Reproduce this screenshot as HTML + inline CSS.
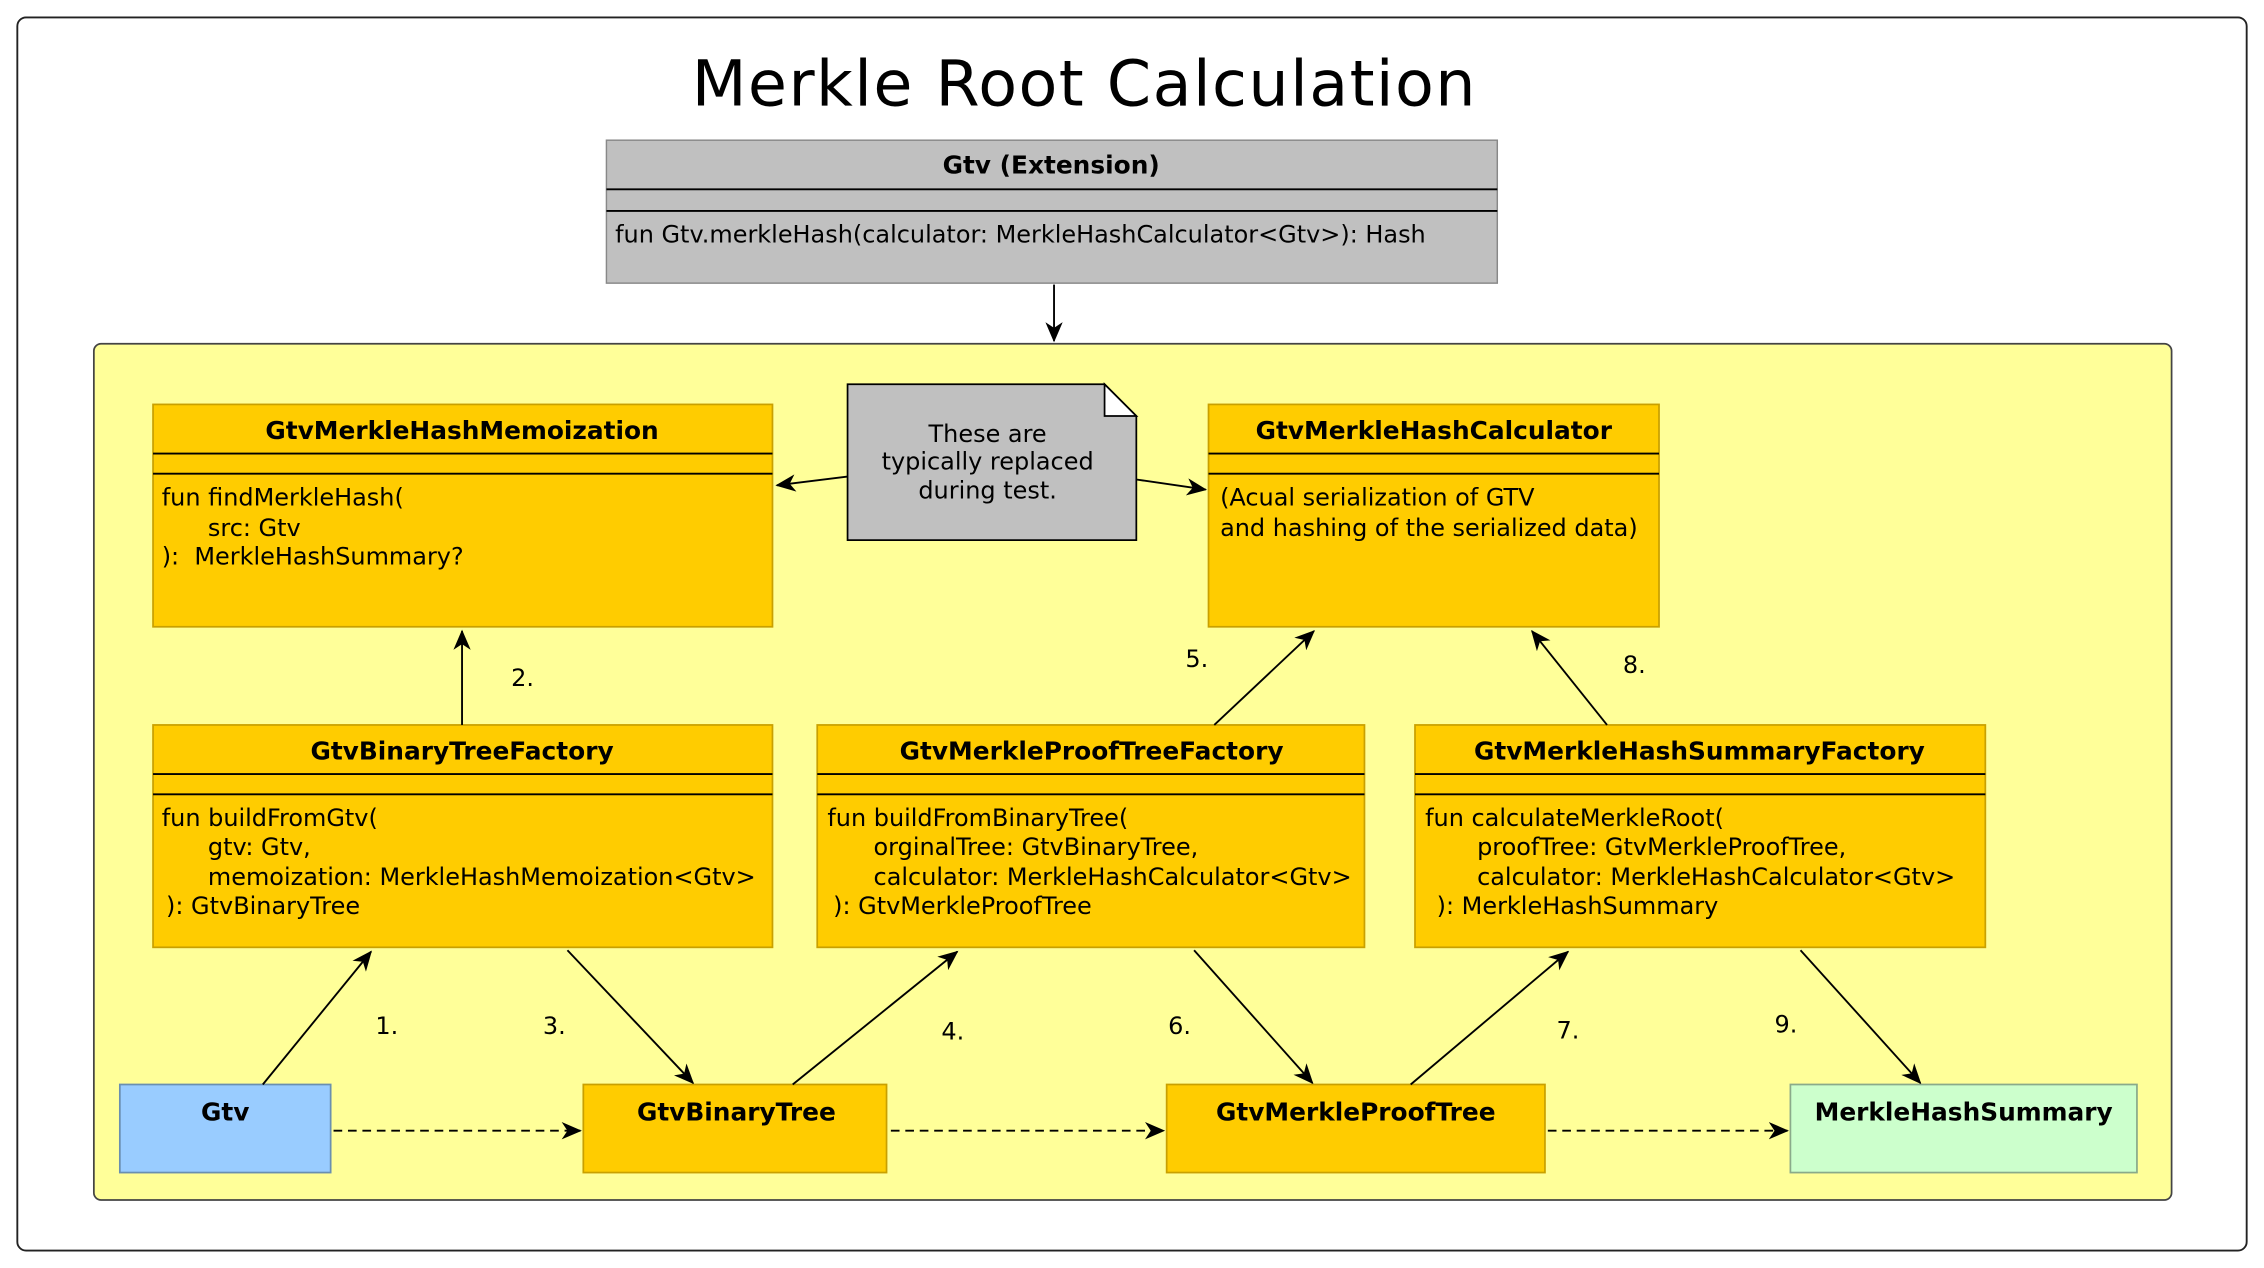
<!DOCTYPE html>
<html><head><meta charset="utf-8"><style>
html,body{margin:0;padding:0;background:#fff;}
svg{display:block;}
text{font-family:"DejaVu Sans","Liberation Sans",sans-serif;fill:#000;}
.t{font-size:16.6px;}
.b{font-size:17.2px;font-weight:bold;}
</style></head><body>
<svg width="2264" height="1268" viewBox="0 0 1568 878" xmlns="http://www.w3.org/2000/svg">
<defs>
<marker id="a" viewBox="0 0 14 12" refX="13" refY="6" markerWidth="14" markerHeight="12" markerUnits="userSpaceOnUse" orient="auto">
<path d="M0,0 L14,6 L0,12 L4,6 Z" fill="#000"/></marker>
</defs>
<rect x="0" y="0" width="1568" height="878" fill="#fff"/>
<rect x="12" y="12" width="1544" height="854" rx="6" fill="#fff" stroke="#222" stroke-width="1.3"/>
<text x="751" y="73" text-anchor="middle" style="font-size:44px;letter-spacing:1px">Merkle Root Calculation</text>

<!-- Gtv Extension -->
<rect x="420" y="97" width="617" height="99" fill="#c0c0c0" stroke="#888" stroke-width="1"/>
<text x="728" y="120" text-anchor="middle" class="b">Gtv (Extension)</text>
<line x1="420" y1="131" x2="1037" y2="131" stroke="#000" stroke-width="1.3"/>
<line x1="420" y1="146" x2="1037" y2="146" stroke="#000" stroke-width="1.3"/>
<text x="426" y="168" class="t">fun Gtv.merkleHash(calculator: MerkleHashCalculator&lt;Gtv&gt;): Hash</text>
<line x1="730" y1="197" x2="730" y2="236" stroke="#000" stroke-width="1.3" marker-end="url(#a)"/>

<!-- package -->
<rect x="65" y="238" width="1439" height="593" rx="5" fill="#ffff99" stroke="#444" stroke-width="1.2"/>

<!-- Memoization -->
<rect x="106" y="280" width="429" height="154" fill="#ffcc00" stroke="#c9a000" stroke-width="1.2"/>
<text x="320" y="304" text-anchor="middle" class="b">GtvMerkleHashMemoization</text>
<line x1="106" y1="314" x2="535" y2="314" stroke="#000" stroke-width="1.3"/>
<line x1="106" y1="328" x2="535" y2="328" stroke="#000" stroke-width="1.3"/>
<text x="112" y="350" class="t">fun findMerkleHash(</text>
<text x="144" y="371" class="t">src: Gtv</text>
<text x="112" y="391" class="t">):&#160; MerkleHashSummary?</text>

<!-- note -->
<path d="M587,266 L765,266 L787,288 L787,374 L587,374 Z" fill="#c0c0c0" stroke="#000" stroke-width="1.2"/>
<path d="M765,266 L765,288 L787,288 Z" fill="#fff" stroke="#000" stroke-width="1.2"/>
<text x="684" y="306" text-anchor="middle" class="t">These are</text>
<text x="684" y="325" text-anchor="middle" class="t">typically replaced</text>
<text x="684" y="345" text-anchor="middle" class="t">during test.</text>
<line x1="587" y1="330" x2="538" y2="336" stroke="#000" stroke-width="1.3" marker-end="url(#a)"/>
<line x1="787" y1="332" x2="835" y2="339" stroke="#000" stroke-width="1.3" marker-end="url(#a)"/>

<!-- Calculator -->
<rect x="837" y="280" width="312" height="154" fill="#ffcc00" stroke="#c9a000" stroke-width="1.2"/>
<text x="993" y="304" text-anchor="middle" class="b">GtvMerkleHashCalculator</text>
<line x1="837" y1="314" x2="1149" y2="314" stroke="#000" stroke-width="1.3"/>
<line x1="837" y1="328" x2="1149" y2="328" stroke="#000" stroke-width="1.3"/>
<text x="845" y="350" class="t">(Acual serialization of GTV</text>
<text x="845" y="371" class="t">and hashing of the serialized data)</text>

<!-- BinaryTreeFactory -->
<rect x="106" y="502" width="429" height="154" fill="#ffcc00" stroke="#c9a000" stroke-width="1.2"/>
<text x="320" y="526" text-anchor="middle" class="b">GtvBinaryTreeFactory</text>
<line x1="106" y1="536" x2="535" y2="536" stroke="#000" stroke-width="1.3"/>
<line x1="106" y1="550" x2="535" y2="550" stroke="#000" stroke-width="1.3"/>
<text x="112" y="572" class="t">fun buildFromGtv(</text>
<text x="144" y="592" class="t">gtv: Gtv,</text>
<text x="144" y="613" class="t">memoization: MerkleHashMemoization&lt;Gtv&gt;</text>
<text x="115" y="633" class="t">): GtvBinaryTree</text>

<!-- ProofTreeFactory -->
<rect x="566" y="502" width="379" height="154" fill="#ffcc00" stroke="#c9a000" stroke-width="1.2"/>
<text x="756" y="526" text-anchor="middle" class="b">GtvMerkleProofTreeFactory</text>
<line x1="566" y1="536" x2="945" y2="536" stroke="#000" stroke-width="1.3"/>
<line x1="566" y1="550" x2="945" y2="550" stroke="#000" stroke-width="1.3"/>
<text x="573" y="572" class="t">fun buildFromBinaryTree(</text>
<text x="605" y="592" class="t">orginalTree: GtvBinaryTree,</text>
<text x="605" y="613" class="t">calculator: MerkleHashCalculator&lt;Gtv&gt;</text>
<text x="577" y="633" class="t">): GtvMerkleProofTree</text>

<!-- SummaryFactory -->
<rect x="980" y="502" width="395" height="154" fill="#ffcc00" stroke="#c9a000" stroke-width="1.2"/>
<text x="1177" y="526" text-anchor="middle" class="b">GtvMerkleHashSummaryFactory</text>
<line x1="980" y1="536" x2="1375" y2="536" stroke="#000" stroke-width="1.3"/>
<line x1="980" y1="550" x2="1375" y2="550" stroke="#000" stroke-width="1.3"/>
<text x="987" y="572" class="t">fun calculateMerkleRoot(</text>
<text x="1023" y="592" class="t">proofTree: GtvMerkleProofTree,</text>
<text x="1023" y="613" class="t">calculator: MerkleHashCalculator&lt;Gtv&gt;</text>
<text x="995" y="633" class="t">): MerkleHashSummary</text>

<!-- bottom nodes -->
<rect x="83" y="751" width="146" height="61" fill="#99ccff" stroke="#6a8fb0" stroke-width="1.2"/>
<text x="156" y="776" text-anchor="middle" class="b">Gtv</text>
<rect x="404" y="751" width="210" height="61" fill="#ffcc00" stroke="#c9a000" stroke-width="1.2"/>
<text x="510" y="776" text-anchor="middle" class="b">GtvBinaryTree</text>
<rect x="808" y="751" width="262" height="61" fill="#ffcc00" stroke="#c9a000" stroke-width="1.2"/>
<text x="939" y="776" text-anchor="middle" class="b">GtvMerkleProofTree</text>
<rect x="1240" y="751" width="240" height="61" fill="#ccffcc" stroke="#8aaa8a" stroke-width="1.2"/>
<text x="1360" y="776" text-anchor="middle" class="b">MerkleHashSummary</text>

<!-- dashed -->
<g stroke="#000" stroke-width="1.3" stroke-dasharray="6,4" fill="none">
<line x1="231" y1="783" x2="402" y2="783" marker-end="url(#a)"/>
<line x1="617" y1="783" x2="806" y2="783" marker-end="url(#a)"/>
<line x1="1072" y1="783" x2="1238" y2="783" marker-end="url(#a)"/>
</g>

<!-- solid arrows -->
<g stroke="#000" stroke-width="1.3" fill="none">
<line x1="320" y1="502" x2="320" y2="437" marker-end="url(#a)"/>
<line x1="841" y1="502" x2="910" y2="437" marker-end="url(#a)"/>
<line x1="1113" y1="502" x2="1061" y2="437" marker-end="url(#a)"/>
<line x1="182" y1="751" x2="257" y2="659" marker-end="url(#a)"/>
<line x1="393" y1="658" x2="480" y2="750" marker-end="url(#a)"/>
<line x1="549" y1="751" x2="663" y2="659" marker-end="url(#a)"/>
<line x1="827" y1="658" x2="909" y2="750" marker-end="url(#a)"/>
<line x1="977" y1="751" x2="1086" y2="659" marker-end="url(#a)"/>
<line x1="1247" y1="658" x2="1330" y2="750" marker-end="url(#a)"/>
</g>

<text x="354" y="475" class="t">2.</text>
<text x="821" y="462" class="t">5.</text>
<text x="1124" y="466" class="t">8.</text>
<text x="260" y="716" class="t">1.</text>
<text x="376" y="716" class="t">3.</text>
<text x="652" y="720" class="t">4.</text>
<text x="809" y="716" class="t">6.</text>
<text x="1078" y="719" class="t">7.</text>
<text x="1229" y="715" class="t">9.</text>
</svg>
</body></html>
